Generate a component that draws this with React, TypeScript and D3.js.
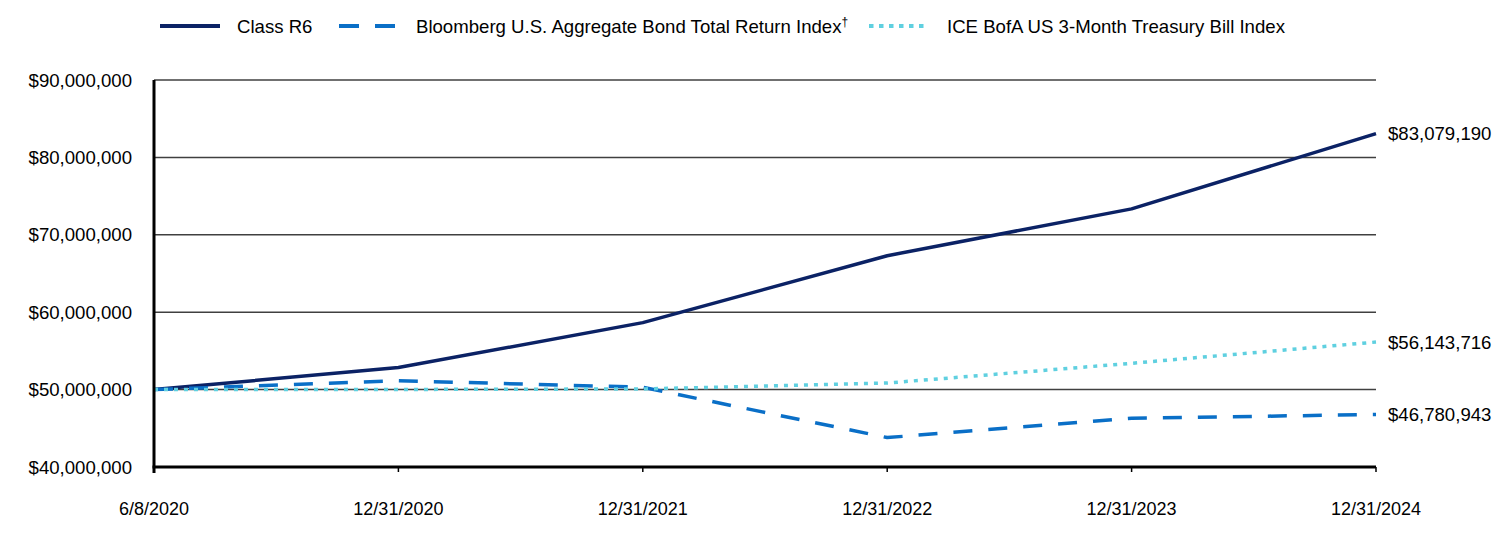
import React from "react";
import * as d3 from "d3";

const categories = ["6/8/2020", "12/31/2020", "12/31/2021", "12/31/2022", "12/31/2023", "12/31/2024"];
const classR6 = [50000000, 52850000, 58650000, 67300000, 73350000, 83079190];
const bloomberg = [50000000, 51150000, 50300000, 43800000, 46300000, 46780943];
const ice = [50000000, 50020000, 50080000, 50850000, 53400000, 56143716];
const yTicks = [40000000, 50000000, 60000000, 70000000, 80000000, 90000000];
const endLabels = ["$83,079,190", "$56,143,716", "$46,780,943"];

const W = 1512, H = 552;
const left = 154, right = 1376, top = 80, bottom = 467;
const font = "Arial, 'Liberation Sans', sans-serif";
const FS = 18.6;
const FX = 18;

export default function App() {
  const x = d3.scalePoint<string>().domain(categories).range([left, right]);
  const y = d3.scaleLinear().domain([40000000, 90000000]).range([bottom, top]);
  const line = d3.line<number>().x((_, i) => x(categories[i])!).y((d) => y(d));
  const fmt = (v: number) => "$" + d3.format(",")(v);

  const series = [
    { name: "Class R6", data: classR6, color: "#0b2265", dash: "none", sup: "" },
    { name: "Bloomberg U.S. Aggregate Bond Total Return Index", data: bloomberg, color: "#0a6fc7", dash: "19 16", sup: "†" },
    { name: "ICE BofA US 3-Month Treasury Bill Index", data: ice, color: "#5fd0e0", dash: "4 6", sup: "" },
  ];
  const legend = [
    { x1: 160, x2: 220, tx: 237, dash: "none" },
    { x1: 339, x2: 395, tx: 416, dash: "20 16" },
    { x1: 869, x2: 924, tx: 947, dash: "4.5 5.5" },
  ];
  const endOrder = [classR6, ice, bloomberg];

  return (
    <svg width={W} height={H} style={{ position: "absolute", left: 0, top: 0 }} fontFamily={font}>
      <rect width={W} height={H} fill="#fff" />
      {yTicks.filter((t) => t > 40000000).map((t) => (
        <line key={t} x1={left} x2={right} y1={y(t)} y2={y(t)} stroke="#404040" strokeWidth={1.5} />
      ))}
      {yTicks.map((t) => (
        <text key={"l" + t} x={132} y={y(t)} dy="0.35em" textAnchor="end" fontSize={FS} fill="#000">
          {fmt(t)}
        </text>
      ))}
      {categories.map((c) => (
        <g key={c}>
          <line x1={x(c)} x2={x(c)} y1={bottom} y2={bottom + 5} stroke="#000" strokeWidth={1.5} />
          <text x={x(c)} y={509} dy="0.35em" textAnchor="middle" fontSize={FX} fill="#000">{c}</text>
        </g>
      ))}
      {series.map((s) => (
        <path key={s.name} d={line(s.data)!} fill="none" stroke={s.color} strokeWidth={3.5}
          strokeDasharray={s.dash} strokeLinejoin="round" />
      ))}
      <line x1={left} x2={left} y1={top} y2={bottom + 6} stroke="#000" strokeWidth={3} />
      <line x1={left - 1.5} x2={right} y1={bottom} y2={bottom} stroke="#000" strokeWidth={3} />
      {endOrder.map((d, i) => (
        <text key={i} x={1388} y={y(d[d.length - 1])} dy="0.35em" fontSize={FS} fill="#000">{endLabels[i]}</text>
      ))}
      {series.map((s, i) => (
        <g key={"lg" + i}>
          <line x1={legend[i].x1} x2={legend[i].x2} y1={26} y2={26} stroke={s.color}
            strokeWidth={4} strokeDasharray={legend[i].dash} />
          <text x={legend[i].tx} y={26} dy="0.35em" fontSize={FS} fill="#000">
            {s.name}
            {s.sup && <tspan dy="-7" fontSize={12}>{s.sup}</tspan>}
          </text>
        </g>
      ))}
    </svg>
  );
}
